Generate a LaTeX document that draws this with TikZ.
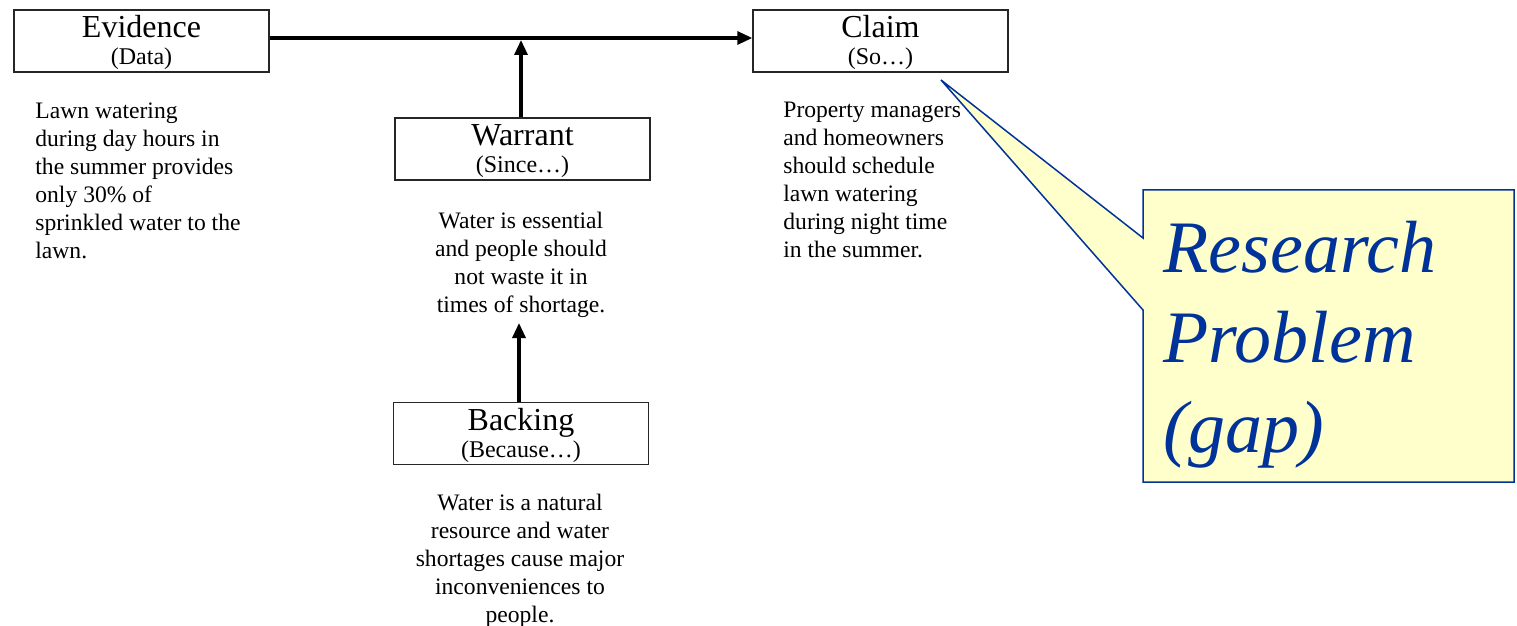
\documentclass[tikz,border=0pt]{standalone}
\usepackage{fontspec}
\setmainfont{Liberation Serif}
\usetikzlibrary{arrows.meta}
\definecolor{callblue}{RGB}{0,51,153}
\definecolor{callfill}{RGB}{255,255,204}
\newcommand{\boxtitle}[1]{\rule{0pt}{13pt}{\fontsize{16}{13.5}\selectfont #1}}
\begin{document}
\begin{tikzpicture}[x=0.5pt,y=-0.5pt,
  tbox/.style={draw=black!85,line width=0.7pt,minimum width=127.5pt,minimum height=31pt,inner sep=0pt,align=center,font=\fontsize{12}{13.5}\selectfont},
  body/.style={inner sep=0pt,font=\fontsize{11.8}{14}\selectfont},
  arr/.style={line width=1.6pt,-{Triangle[length=7.5pt,width=6.5pt]}}]
\useasboundingbox[fill=white] (0,0) rectangle (1517,626);
% boxes
\node[tbox] (ev) at (141.5,41) {\boxtitle{Evidence}\\(Data)};
\node[tbox] (cl) at (880.5,41) {\boxtitle{Claim}\\(So\dots)};
\node[tbox] (wa) at (522.5,149) {\boxtitle{Warrant}\\(Since\dots)};
\node[tbox] (ba) at (521,433.5) {\boxtitle{Backing}\\(Because\dots)};
% texts
\node[body,anchor=north west,align=left] (evt) at (35,102) {Lawn watering\\during day hours in\\the summer provides\\only 30\% of\\sprinkled water to the\\lawn.};
\node[body,anchor=north,align=center] (wat) at (521,212) {Water is essential\\and people should\\not waste it in\\times of shortage.};
\node[body,anchor=north west,align=left] (clt) at (783,102) {Property managers\\and homeowners\\should schedule\\lawn watering\\during night time\\in the summer.};
\node[body,anchor=north,align=center] (bat) at (520,494) {Water is a natural\\resource and water\\shortages cause major\\inconveniences to\\people.};
% arrows
\coordinate (wj) at (521,40);
\coordinate (bt) at (519,323);
\draw[arr] ([yshift=1.5pt]ev.east) -- ([yshift=1.5pt]cl.west);
\draw[arr] (wa.north -| wj) -- (wj);
\draw[arr] (ba.north -| bt) -- (bt);
% callout
\coordinate (tip) at (941,80);
\draw[draw=callblue,line width=0.75pt,fill=callfill,line join=miter]
  (1143,190) -- (1514,190) -- (1514,482) -- (1143,482) -- (1143,310) -- (tip) -- (1143,238) -- cycle;
\node[inner sep=0pt,anchor=north west,align=left,text=callblue,font=\fontsize{37}{45}\selectfont\itshape] (rp) at (1163,221) {Research\\Problem\\(gap)};
\end{tikzpicture}
\end{document}
